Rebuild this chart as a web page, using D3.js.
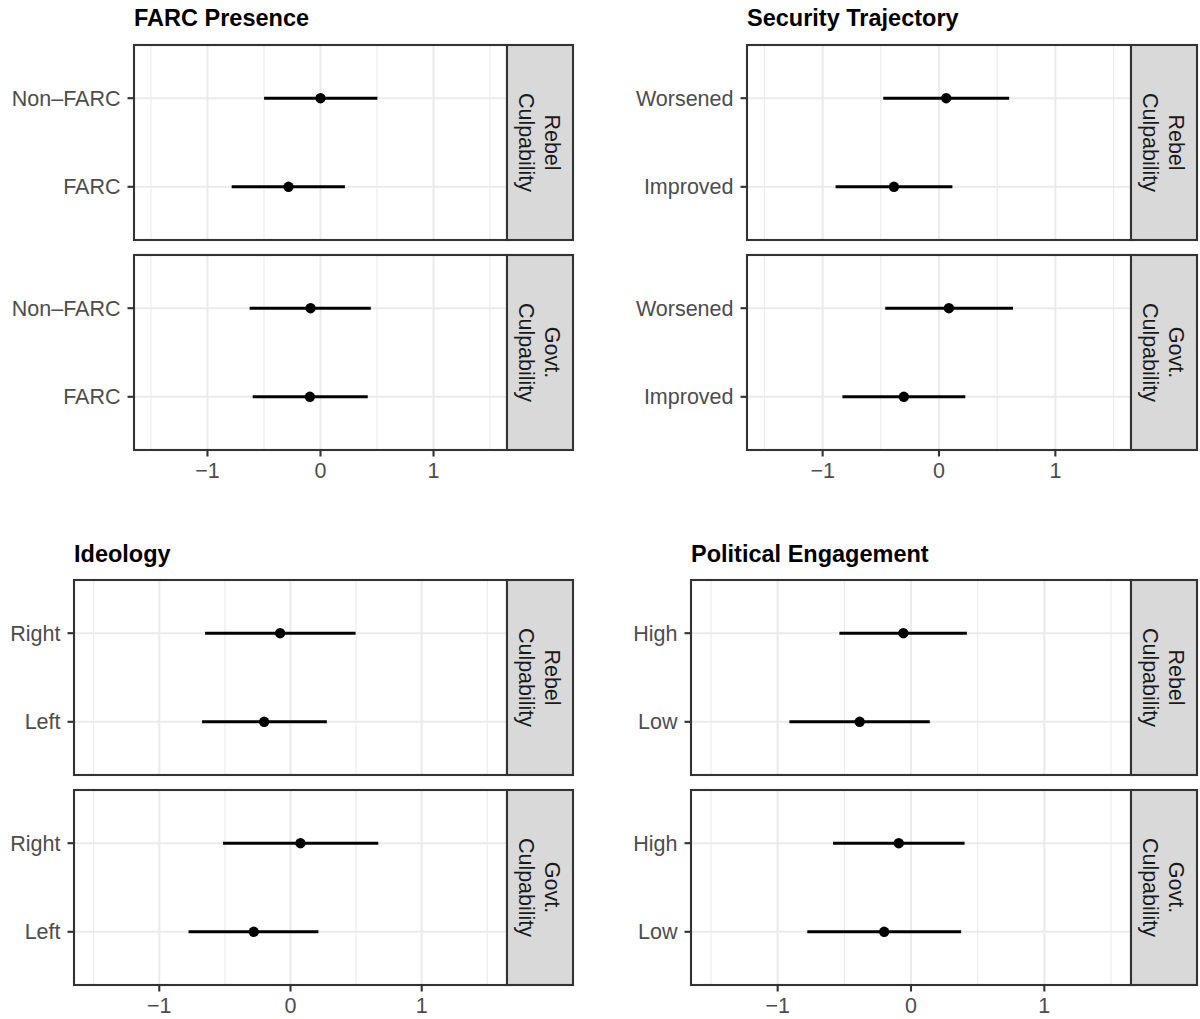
<!DOCTYPE html>
<html>
<head>
<meta charset="utf-8">
<script src="https://cdn.jsdelivr.net/npm/d3@7"></script>
<style>
  html, body { margin: 0; padding: 0; background: #fff; }
  svg { display: block; }
  text { font-family: "Liberation Sans", Arial, Helvetica, sans-serif; }
</style>
</head>
<body>
<svg id="chart" width="1200" height="1019"></svg>
<script>
// ---------------- DATA ----------------
const panelTitles = ["FARC Presence", "Security Trajectory", "Ideology", "Political Engagement"];
const facetLabels = [["Rebel", "Culpability"], ["Govt.", "Culpability"]];

// categories listed bottom -> top
const farcCats = ["FARC", "Non\u2013FARC"];
const securityCats = ["Improved", "Worsened"];
const ideologyCats = ["Left", "Right"];
const engagementCats = ["Low", "High"];

// values ordered: [rebel cat1, rebel cat2, govt cat1, govt cat2]
const farcEst = [-0.283, 0.000, -0.094, -0.088];
const farcLo  = [-0.786, -0.499, -0.600, -0.627];
const farcHi  = [0.216, 0.503, 0.418, 0.445];

const securityEst = [-0.387, 0.062, -0.302, 0.085];
const securityLo  = [-0.889, -0.479, -0.830, -0.462];
const securityHi  = [0.115, 0.603, 0.226, 0.636];

const ideologyEst = [-0.201, -0.079, -0.280, 0.076];
const ideologyLo  = [-0.674, -0.651, -0.777, -0.514];
const ideologyHi  = [0.277, 0.496, 0.213, 0.669];

const engagementEst = [-0.385, -0.057, -0.201, -0.092];
const engagementLo  = [-0.912, -0.537, -0.778, -0.585];
const engagementHi  = [0.141, 0.419, 0.376, 0.402];

const xLimits = [-1.5, 1.5];
const xMajorTicks = [-1, 0, 1];
const xMinorTicks = [-1.5, -0.5, 0.5, 1.5];
const xTickLabels = ["\u22121", "0", "1"];

// ---------------- LAYOUT ----------------
const panels = [
  { title: panelTitles[0], cats: farcCats, est: farcEst, lo: farcLo, hi: farcHi,
    left: 134, right: 507, tops: [45, 255], titleY: 26 },
  { title: panelTitles[1], cats: securityCats, est: securityEst, lo: securityLo, hi: securityHi,
    left: 747, right: 1131, tops: [45, 255], titleY: 26 },
  { title: panelTitles[2], cats: ideologyCats, est: ideologyEst, lo: ideologyLo, hi: ideologyHi,
    left: 74, right: 507, tops: [580, 790], titleY: 562 },
  { title: panelTitles[3], cats: engagementCats, est: engagementEst, lo: engagementLo, hi: engagementHi,
    left: 691, right: 1131, tops: [580, 790], titleY: 562 }
];
const facetH = 195;
const stripW = 66;
const fontSize = 21.5;

const svg = d3.select("#chart");

panels.forEach(p => {
  const span = xLimits[1] - xLimits[0];
  const x = d3.scaleLinear()
    .domain([xLimits[0] - 0.05 * span, xLimits[1] + 0.05 * span])
    .range([p.left, p.right]);

  const g = svg.append("g");

  g.append("text")
    .attr("x", p.left).attr("y", p.titleY)
    .attr("font-size", 23.5).attr("font-weight", "bold").attr("fill", "#000")
    .text(p.title);

  p.tops.forEach((top, fi) => {
    // discrete scale mimicking ggplot expansion (0.6 units each side)
    const yPos = d3.scaleLinear().domain([0.4, 2.6]).range([top + facetH, top]);
    const yOf = c => yPos(p.cats.indexOf(c) + 1);

    const fg = g.append("g");
    fg.append("rect").attr("x", p.left).attr("y", top)
      .attr("width", p.right - p.left).attr("height", facetH).attr("fill", "#fff");
    fg.selectAll(".minor").data(xMinorTicks).join("line")
      .attr("x1", d => x(d)).attr("x2", d => x(d))
      .attr("y1", top).attr("y2", top + facetH)
      .attr("stroke", "#EBEBEB").attr("stroke-width", 1.1);
    fg.selectAll(".majorx").data(xMajorTicks).join("line")
      .attr("x1", d => x(d)).attr("x2", d => x(d))
      .attr("y1", top).attr("y2", top + facetH)
      .attr("stroke", "#EBEBEB").attr("stroke-width", 2.1);
    fg.selectAll(".majory").data(p.cats).join("line")
      .attr("x1", p.left).attr("x2", p.right)
      .attr("y1", d => yOf(d)).attr("y2", d => yOf(d))
      .attr("stroke", "#EBEBEB").attr("stroke-width", 2.1);

    const rows = p.cats.map((c, ci) => ({
      cat: c, est: p.est[fi * 2 + ci], lo: p.lo[fi * 2 + ci], hi: p.hi[fi * 2 + ci]
    }));
    fg.selectAll(".err").data(rows).join("line")
      .attr("x1", d => x(d.lo)).attr("x2", d => x(d.hi))
      .attr("y1", d => yOf(d.cat)).attr("y2", d => yOf(d.cat))
      .attr("stroke", "#000").attr("stroke-width", 3);
    fg.selectAll(".pt").data(rows).join("circle")
      .attr("cx", d => x(d.est)).attr("cy", d => yOf(d.cat))
      .attr("r", 5.2).attr("fill", "#000");

    fg.append("rect").attr("x", p.left).attr("y", top)
      .attr("width", p.right - p.left).attr("height", facetH)
      .attr("fill", "none").attr("stroke", "#333333").attr("stroke-width", 2.1);

    fg.append("rect").attr("x", p.right).attr("y", top)
      .attr("width", stripW).attr("height", facetH)
      .attr("fill", "#D9D9D9").attr("stroke", "#333333").attr("stroke-width", 2.1);
    const cx = p.right + stripW / 2, cy = top + facetH / 2;
    const st = fg.append("text")
      .attr("transform", `translate(${cx},${cy}) rotate(90)`)
      .attr("font-size", fontSize).attr("fill", "#1A1A1A")
      .attr("text-anchor", "middle");
    const lines = facetLabels[fi];
    const lh = 26;
    lines.forEach((ln, li) => {
      st.append("tspan").attr("x", 0)
        .attr("y", (li - (lines.length - 1) / 2) * lh)
        .attr("dy", "0.35em").text(ln);
    });

    fg.selectAll(".ytick").data(p.cats).join("line")
      .attr("x1", p.left - 6.5).attr("x2", p.left)
      .attr("y1", d => yOf(d)).attr("y2", d => yOf(d))
      .attr("stroke", "#333333").attr("stroke-width", 2.1);
    fg.selectAll(".ylab").data(p.cats).join("text")
      .attr("x", p.left - 13.5).attr("y", d => yOf(d))
      .attr("dy", "0.35em").attr("text-anchor", "end")
      .attr("font-size", fontSize).attr("fill", "#4D4D4D")
      .text(d => d);

    if (fi === p.tops.length - 1) {
      const bottom = top + facetH;
      fg.selectAll(".xtick").data(xMajorTicks).join("line")
        .attr("x1", d => x(d)).attr("x2", d => x(d))
        .attr("y1", bottom).attr("y2", bottom + 6.5)
        .attr("stroke", "#333333").attr("stroke-width", 2.1);
      fg.selectAll(".xlab").data(xMajorTicks).join("text")
        .attr("x", d => x(d)).attr("y", bottom + 28)
        .attr("text-anchor", "middle")
        .attr("font-size", fontSize).attr("fill", "#4D4D4D")
        .text((d, i) => xTickLabels[i]);
    }
  });
});
</script>
</body>
</html>
